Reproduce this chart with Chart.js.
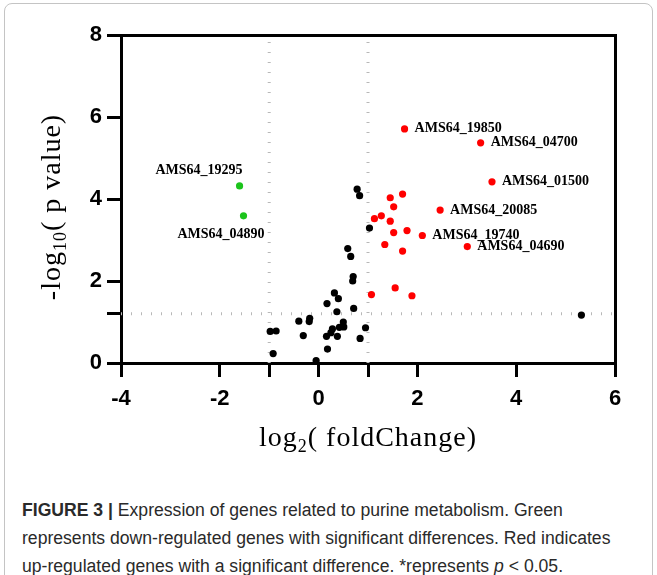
<!DOCTYPE html>
<html>
<head>
<meta charset="utf-8">
<script src="https://cdn.jsdelivr.net/npm/chart.js@4.4.1/dist/chart.umd.min.js"></script>
<style>
  html, body { margin: 0; padding: 0; background: #fff; }
  body { width: 657px; height: 575px; position: relative; overflow: hidden; }
  .frame { position: absolute; left: 4px; top: 3px; width: 647px; height: 620px;
           border: 1px solid #c4c4c4; border-radius: 8px; }
  .plot { position: absolute; left: 0; top: 0; width: 657px; height: 470px; }
  .caption { position: absolute; left: 22px; top: 496px; width: 630px;
             font-family: "Liberation Sans Narrow", "Liberation Sans", Arial, sans-serif;
             font-size: 17.6px; line-height: 28px; color: #2a2a2a; white-space: nowrap; }
</style>
</head>
<body>
<div class="frame"></div>
<div class="plot"><canvas id="volcano"></canvas></div>
<div class="caption"><b>FIGURE 3 |</b> Expression of genes related to purine metabolism. Green<br>represents down-regulated genes with significant differences. Red indicates<br>up-regulated genes with a significant difference. *represents <i>p</i> &lt; 0.05.</div>
<script>
// log2 fold change / -log10 p value
const upX = [1.74, 3.28, 3.51, 1.70, 1.45, 1.52, 2.46, 1.13, 1.27, 1.45, 1.52, 1.79, 2.10, 1.34, 1.70, 3.01, 1.07, 1.55, 1.89];
const upY = [5.71, 5.37, 4.42, 4.12, 4.03, 3.81, 3.73, 3.52, 3.59, 3.46, 3.18, 3.23, 3.11, 2.89, 2.73, 2.84, 1.67, 1.83, 1.64];
const upGenes = ["AMS64_19850", "AMS64_04700", "AMS64_01500", "", "", "", "AMS64_20085", "", "", "", "", "", "AMS64_19740", "", "", "AMS64_04690", "", "", ""];

const downX = [-1.60, -1.52];
const downY = [4.32, 3.59];
const downGenes = ["AMS64_19295", "AMS64_04890"];

const nsX = [0.78, 0.83, 1.03, 0.59, 0.65, 0.70, 0.69, 0.32, 0.40, 0.17, 0.71, 0.37, -0.18, -0.19, -0.40, 0.50,
             0.42, 0.51, 0.95, 0.28, 0.25, -0.98, -0.86, -0.31, 0.16, 0.38, 0.84, 0.18, -0.92, -0.05, 5.32];
const nsY = [4.24, 4.08, 3.29, 2.79, 2.60, 2.11, 2.00, 1.71, 1.57, 1.45, 1.33, 1.25, 1.09, 1.01, 1.02, 1.00,
             0.87, 0.88, 0.86, 0.83, 0.74, 0.77, 0.78, 0.67, 0.65, 0.65, 0.60, 0.34, 0.23, 0.06, 1.17];

const xTicks = [-4, -2, -1, 0, 1, 2, 4, 6];
const yTicks = [0, 1.2, 2, 4, 6, 8];
const fcCut = 1;
const pCut = 1.2;

const pts = (xs, ys) => xs.map((x, i) => ({ x: x, y: ys[i] }));

// label placement for the left-hand genes (others sit to the right of the dot)
const labelOffsets = {
  "AMS64_19295": [3, -15, "right"],
  "AMS64_04890": [21, 19, "right"],
};

const geneLabels = {
  id: "geneLabels",
  afterDatasetsDraw(chart) {
    const ctx = chart.ctx;
    ctx.save();
    ctx.font = 'bold 14px "Liberation Serif"';
    ctx.fillStyle = "#000";
    ctx.textBaseline = "middle";
    chart.data.datasets.forEach((ds, i) => {
      if (!ds.genes) return;
      chart.getDatasetMeta(i).data.forEach((pt, j) => {
        const name = ds.genes[j];
        if (!name) return;
        const off = labelOffsets[name] || [10, 0, "left"];
        ctx.textAlign = off[2];
        ctx.fillText(name, pt.x + off[0], pt.y + off[1]);
      });
    });
    ctx.restore();
  },
};

// axis titles with subscripts
function subText(ctx, parts, cx, y) {
  const big = '28px "Liberation Serif"', small = '18px "Liberation Serif"';
  ctx.letterSpacing = "1px";
  let w = 0;
  parts.forEach(p => { ctx.font = p[1] ? small : big; w += ctx.measureText(p[0]).width; });
  let x = cx - w / 2;
  parts.forEach(p => {
    ctx.font = p[1] ? small : big;
    ctx.fillText(p[0], x, y + (p[1] ? 6 : 0));
    x += ctx.measureText(p[0]).width;
  });
}

const axisTitles = {
  id: "axisTitles",
  afterDraw(chart) {
    const ctx = chart.ctx;
    const area = chart.chartArea;
    ctx.save();
    ctx.fillStyle = "#000";
    ctx.textAlign = "left";
    ctx.textBaseline = "alphabetic";
    subText(ctx, [["log"], ["2", true], ["( foldChange)"]], (area.left + area.right) / 2, 446);
    ctx.translate(60, (area.top + area.bottom) / 2 + 8);
    ctx.rotate(-Math.PI / 2);
    subText(ctx, [["-log"], ["10", true], ["( p value)"]], 0, 0);
    ctx.restore();
  },
};

const dotted = { borderColor: "#b8b8b8", borderWidth: 3, borderDash: [1, 9], pointRadius: 0, fill: false, type: "line", order: 5 };

new Chart(document.getElementById("volcano"), {
  type: "scatter",
  data: {
    datasets: [
      Object.assign({ data: [{ x: -fcCut, y: 0 }, { x: -fcCut, y: 8 }] }, dotted),
      Object.assign({ data: [{ x: fcCut, y: 0 }, { x: fcCut, y: 8 }] }, dotted),
      Object.assign({ data: [{ x: -4, y: pCut }, { x: 6, y: pCut }] }, dotted),
      { label: "ns", data: pts(nsX, nsY), backgroundColor: "#000", pointRadius: 3.6, borderWidth: 0, order: 1 },
      { label: "up", data: pts(upX, upY), genes: upGenes, backgroundColor: "#ff0000", pointRadius: 3.6, borderWidth: 0, order: 1 },
      { label: "down", data: pts(downX, downY), genes: downGenes, backgroundColor: "#1cc41c", pointRadius: 3.6, borderWidth: 0, order: 1 },
    ],
  },
  options: {
    responsive: true,
    maintainAspectRatio: false,
    animation: false,
    layout: { padding: { left: 0, right: 42, top: 35, bottom: 47 } },
    plugins: { legend: { display: false }, tooltip: { enabled: false } },
    scales: {
      x: {
        type: "linear",
        position: "bottom",
        min: -4,
        max: 6,
        afterBuildTicks: s => { s.ticks = xTicks.map(v => ({ value: v })); },
        afterFit: s => { s.height = 60; },
        ticks: {
          callback: v => (v % 2 === 0 ? v : ""),
          autoSkip: false,
          maxRotation: 0,
          padding: 9,
          color: "#000",
          font: { family: "Liberation Sans", weight: "bold", size: 22 },
        },
        grid: { drawOnChartArea: false, tickLength: 14, lineWidth: 3, color: "#000" },
        border: { width: 3, color: "#000" },
      },
      y: {
        type: "linear",
        position: "left",
        min: 0,
        max: 8,
        afterBuildTicks: s => { s.ticks = yTicks.map(v => ({ value: v })); },
        afterFit: s => { s.width = 121; },
        ticks: {
          callback: v => (v % 2 === 0 ? v : ""),
          autoSkip: false,
          padding: 5,
          color: "#000",
          font: { family: "Liberation Sans", weight: "bold", size: 22 },
        },
        grid: { drawOnChartArea: false, tickLength: 14, lineWidth: 3, color: "#000" },
        border: { width: 3, color: "#000" },
      },
      x2: {
        type: "linear",
        position: "top",
        min: -4,
        max: 6,
        afterFit: s => { s.height = 0; },
        ticks: { display: false },
        grid: { display: false },
        border: { width: 3, color: "#000" },
      },
      y2: {
        type: "linear",
        position: "right",
        min: 0,
        max: 8,
        afterFit: s => { s.width = 0; },
        ticks: { display: false },
        grid: { display: false },
        border: { width: 3, color: "#000" },
      },
    },
  },
  plugins: [geneLabels, axisTitles],
});
</script>
</body>
</html>
